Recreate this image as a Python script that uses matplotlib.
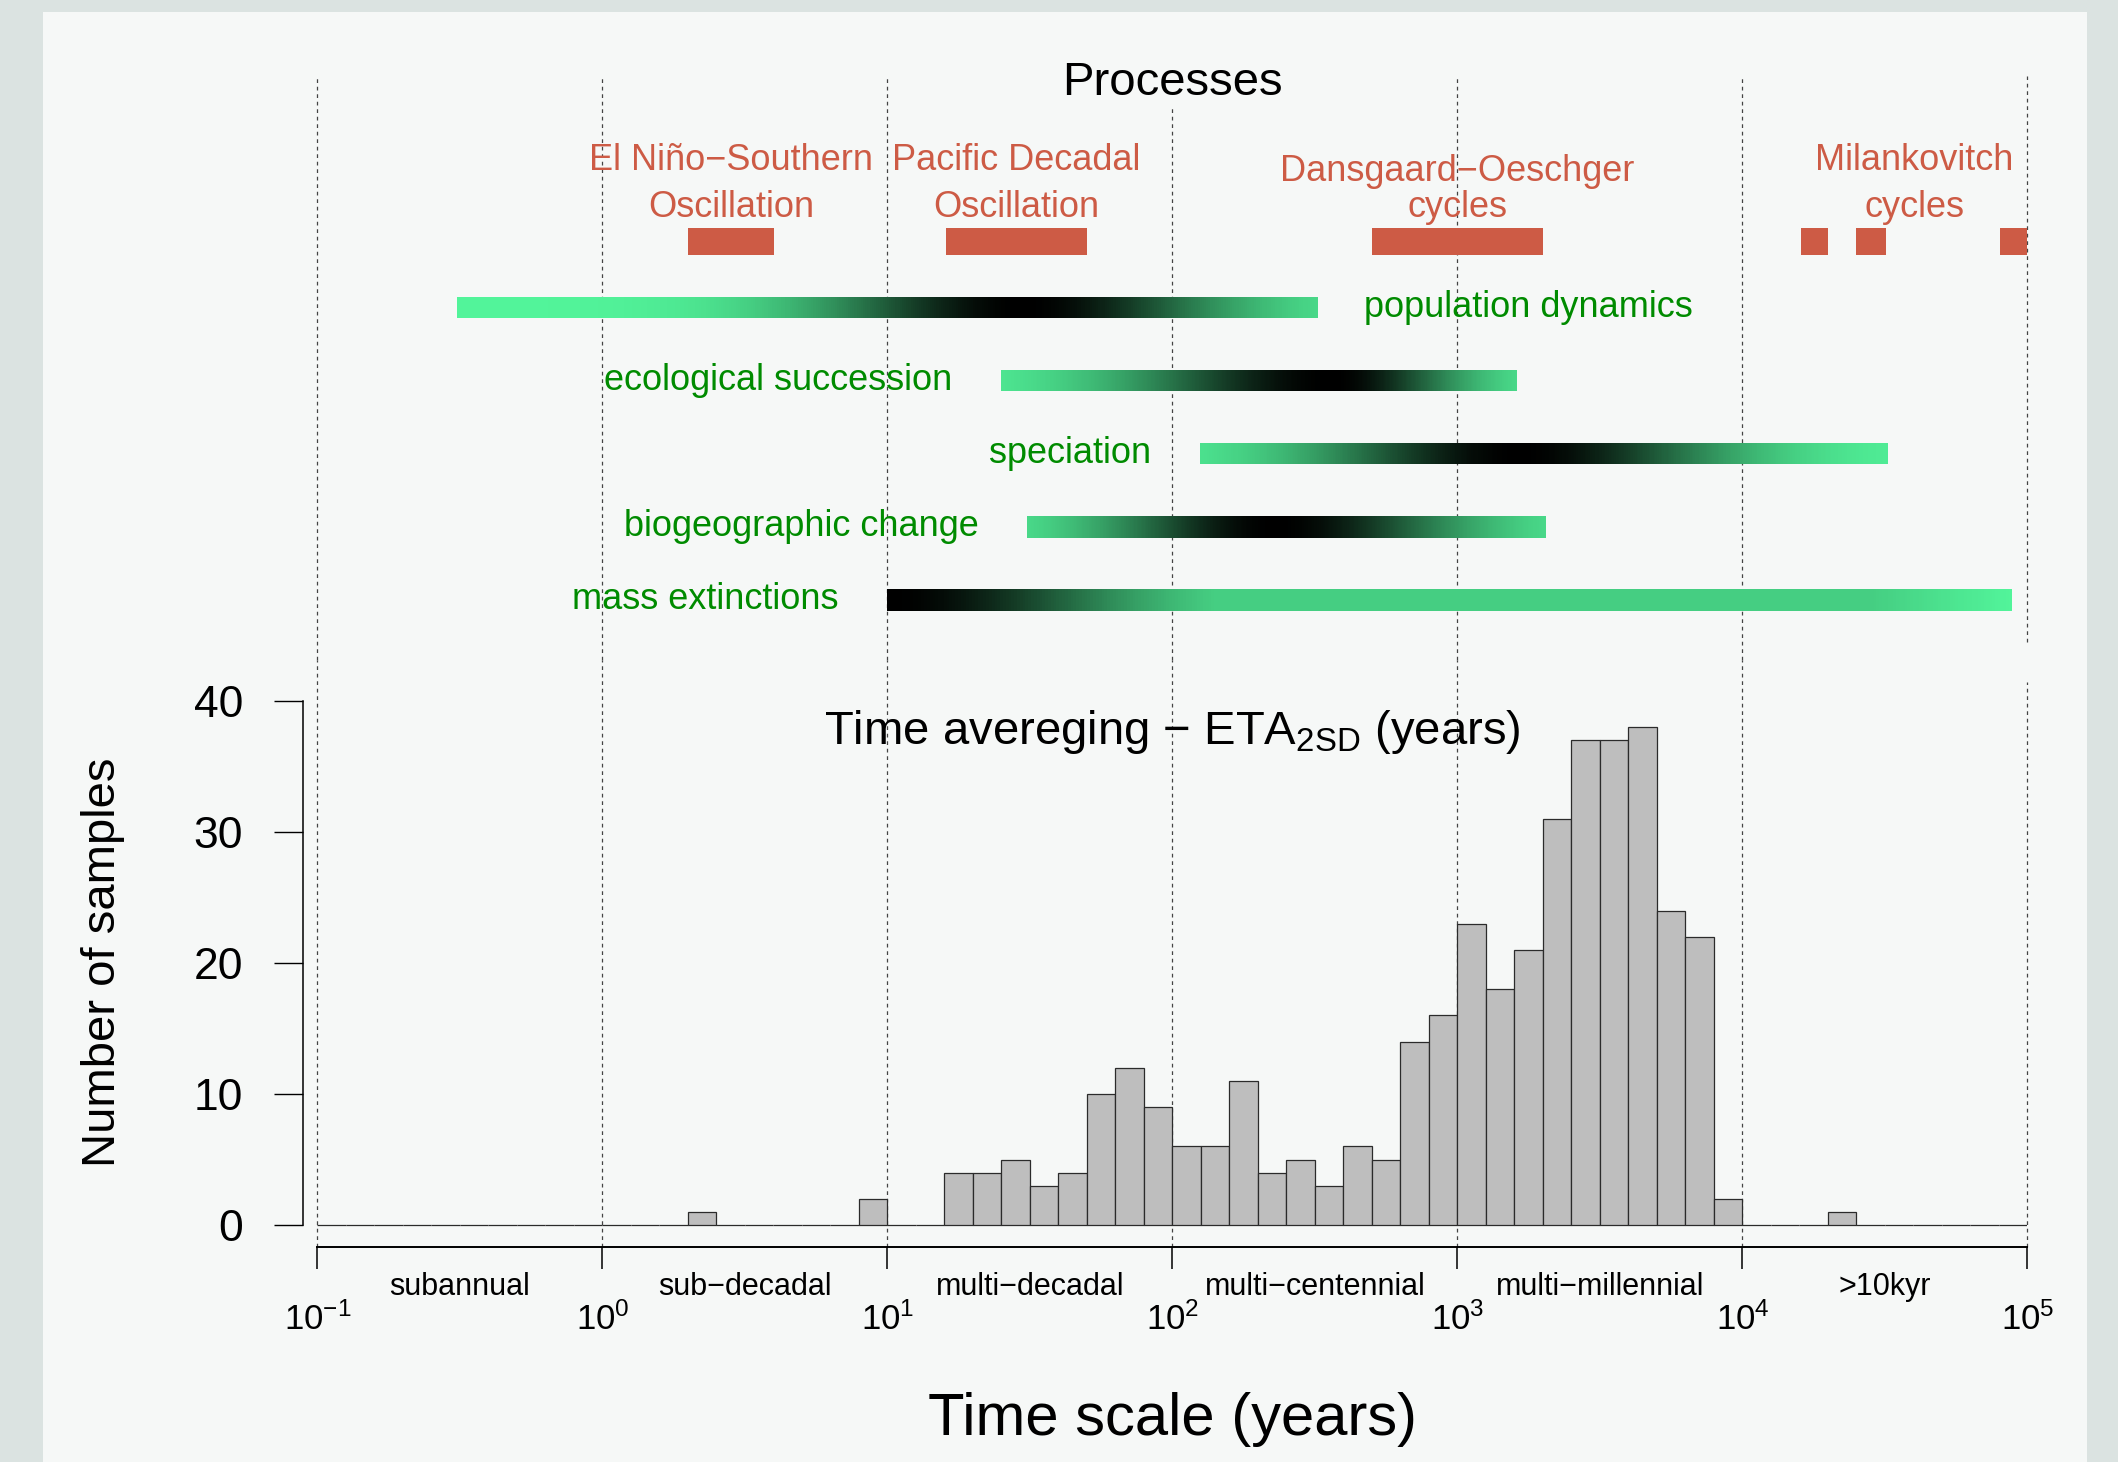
'''Time scales of processes vs. time averaging of the samples'''
import numpy as np
import matplotlib.pyplot as plt
from matplotlib.colors import LinearSegmentedColormap
from matplotlib.patches import Rectangle

plt.rcParams['font.family'] = ['Liberation Sans', 'DejaVu Sans']
plt.rcParams['mathtext.fontset'] = 'custom'
plt.rcParams['mathtext.rm'] = 'Liberation Sans'
plt.rcParams['mathtext.it'] = 'Liberation Sans:italic'
plt.rcParams['mathtext.bf'] = 'Liberation Sans:bold'

# ---- data -------------------------------------------------------------
decades = [0.1, 1, 10, 100, 1000, 10000, 100000]
decade_labels = [r'$10^{-1}$', r'$10^{0}$', r'$10^{1}$', r'$10^{2}$',
                 r'$10^{3}$', r'$10^{4}$', r'$10^{5}$']
scale_names = ['subannual', 'sub\u2212decadal', 'multi\u2212decadal',
               'multi\u2212centennial', 'multi\u2212millennial', '>10kyr']

# histogram bins are 0.1 wide in log10(years), from 10^-1 to 10^5
bin_lo = np.round(np.arange(-1.0, 5.0, 0.1), 1)
counts = [0, 0, 0, 0, 0, 0, 0, 0, 0, 0,
          0, 0, 0, 1, 0, 0, 0, 0, 0, 2,
          0, 0, 4, 4, 5, 3, 4, 10, 12, 9,
          6, 6, 11, 4, 5, 3, 6, 5, 14, 16,
          23, 18, 21, 31, 37, 37, 38, 24, 22, 2,
          0, 0, 0, 1, 0, 0, 0, 0, 0, 0]

osc_names = ['El Ni\u00f1o\u2212Southern\nOscillation', 'Pacific Decadal\nOscillation',
             'Dansgaard\u2212Oeschger\ncycles', 'Milankovitch\ncycles']
osc_ranges = [[(2, 4)], [(16, 50)], [(500, 2000)],
              [(16000, 20000), (25000, 32000), (80000, 100000)]]

proc_names = ['population dynamics', 'ecological succession', 'speciation',
              'biogeographic change', 'mass extinctions']
proc_start = [0.31, 25, 125, 31, 10]
proc_peak = [30, 365, 1650, 230, 10]
proc_end = [325, 1620, 32500, 2050, 88000]

# ---- styles / layout -----------------------------------------------------
W, H = 2118, 1462
OUTER = '#dbe3e1'
PANEL = '#f6f8f7'
RED = '#CD5B45'
GREEN_TXT = '#008B00'
label_side = ['right', 'left', 'left', 'left', 'left']
falloff = [0.5, 0.5, 0.5, 0.5, 0.6]
plateau = [0, 0, 0, 0, 0.16]
osc_line1_row = [-1.875, -1.875, -1.731, -1.875]
ROW0, ROWH = 307.5, 73.07       # pixel row of first process bar, spacing


def row_of(py):
    return (py - ROW0) / ROWH


def hist_y(py):
    return (1225 - py) / 13.1


fig = plt.figure(figsize=(W / 100, H / 100), dpi=100, facecolor=OUTER)
fig.add_artist(Rectangle((43 / W, 0), (2087 - 43) / W, 1 - 12 / H,
                         transform=fig.transFigure, facecolor=PANEL,
                         edgecolor='none', zorder=-10))

x0, x1 = 317.4, 2027.5
ax_top = fig.add_axes([x0 / W, 1 - 660 / H, (x1 - x0) / W, (660 - 76) / H])
ax = fig.add_axes([x0 / W, 1 - 1246.7 / H, (x1 - x0) / W, (1246.7 - 660) / H])
for a in (ax_top, ax):
    a.set_facecolor('none')
    a.set_xscale('log')
    a.set_xlim(0.1, 1e5)

# ---- processes panel -----------------------------------------------------
ax_top.set_ylim(row_of(660), row_of(76))
for s in ax_top.spines.values():
    s.set_visible(False)
ax_top.set_xticks([])
ax_top.set_yticks([])
ax_top.minorticks_off()

for d in decades:
    ymin = (660 - 642) / 584 if d == 1e5 else 0
    ax_top.axvline(d, ymin=ymin, ymax=1, color='#444444', lw=0.9,
                   dashes=(3, 3), zorder=1, clip_on=False)

ax_top.text(100, row_of(95), 'Processes', ha='center', va='baseline',
            fontsize=34, zorder=5,
            bbox=dict(facecolor=PANEL, edgecolor='none', pad=2))

for i, (name, ranges) in enumerate(zip(osc_names, osc_ranges)):
    for lo, hi in ranges:
        ax_top.barh(-0.9, hi - lo, left=lo, height=0.365, color=RED, zorder=3)
    lo_all = min(r[0] for r in ranges)
    hi_all = max(r[1] for r in ranges)
    xc = np.sqrt(lo_all * hi_all)
    line1, line2 = name.split('\n')
    ax_top.text(xc, osc_line1_row[i], line1, ha='center', va='baseline',
                color=RED, fontsize=26, zorder=4)
    ax_top.text(xc, row_of(216.7), line2, ha='center', va='baseline',
                color=RED, fontsize=26, zorder=4)

cmap = LinearSegmentedColormap.from_list('sg', ['#52F49A', '#000000'])
bar_h = 0.296
for i, name in enumerate(proc_names):
    ls, lp, le = np.log10(proc_start[i]), np.log10(proc_peak[i]), np.log10(proc_end[i])
    xe = np.logspace(ls, le, 400)
    xc = 0.5 * (np.log10(xe[:-1]) + np.log10(xe[1:]))
    sd_l = min(falloff[i], 0.48 * (lp - ls)) if lp > ls else 1.0
    sd_r = min(falloff[i], 0.48 * (le - lp))
    dark = np.where(xc < lp, np.exp(-0.5 * ((xc - lp) / sd_l) ** 2),
                    np.exp(-0.5 * ((xc - lp) / sd_r) ** 2))
    fade = np.clip((le - xc) / 0.5, 0, 1)
    dark = np.maximum(dark, plateau[i] * fade)
    ax_top.pcolormesh(xe, [i - bar_h / 2, i + bar_h / 2], dark[None, :],
                      cmap=cmap, vmin=0, vmax=1, shading='flat', zorder=3)
    if label_side[i] == 'right':
        ax_top.annotate(name, (proc_end[i], i + 0.13), xytext=(33, 0),
                        textcoords='offset points', ha='left', va='baseline',
                        color=GREEN_TXT, fontsize=26)
    else:
        ax_top.annotate(name, (proc_start[i], i + 0.13), xytext=(-35, 0),
                        textcoords='offset points', ha='right', va='baseline',
                        color=GREEN_TXT, fontsize=26)

# ---- histogram -----------------------------------------------------------
ax.set_ylim(hist_y(1246.7), hist_y(660))
for d in decades:
    ymax = (1246.7 - 682) / 586.7 if d == 1e5 else 1
    ax.axvline(d, ymin=0, ymax=ymax, color='#444444', lw=0.9,
               dashes=(3, 3), zorder=1, clip_on=False)

left = 10 ** bin_lo
right = 10 ** (bin_lo + 0.1)
ax.bar(left, counts, width=right - left, align='edge', color='#bebebe',
       edgecolor='#2b2b2b', linewidth=0.9, zorder=2)

ax.text(100, hist_y(744), 'Time avereging \u2212 ETA$_{\\mathrm{2SD}}$ (years)',
        ha='center', va='baseline', fontsize=34)

ax.spines['top'].set_visible(False)
ax.spines['right'].set_visible(False)
ax.spines['left'].set_position(('outward', 10.4))
ax.spines['left'].set_bounds(0, 40)
ax.spines['left'].set_linewidth(1.1)
ax.spines['bottom'].set_linewidth(1.4)
ax.set_yticks([0, 10, 20, 30, 40])
ax.tick_params(axis='y', length=21, width=1.0, pad=22, labelsize=32)
ax.set_xticks(decades, decade_labels)
ax.minorticks_off()
ax.tick_params(axis='x', length=15.8, width=1.1, pad=24, labelsize=25)

for k, name in enumerate(scale_names):
    mid = np.sqrt(decades[k] * decades[k + 1])
    ax.text(mid, hist_y(1295), name, ha='center', va='baseline',
            fontsize=22, clip_on=False)

fig.text((x0 + x1) / 2 / W, 1 - 1435 / H, 'Time scale (years)',
         ha='center', va='baseline', fontsize=43)
fig.text(103.5 / W, 1 - 962 / H, 'Number of samples', rotation=90,
         ha='center', va='center', fontsize=34)

fig.savefig('out.png', dpi=100, facecolor=fig.get_facecolor())
